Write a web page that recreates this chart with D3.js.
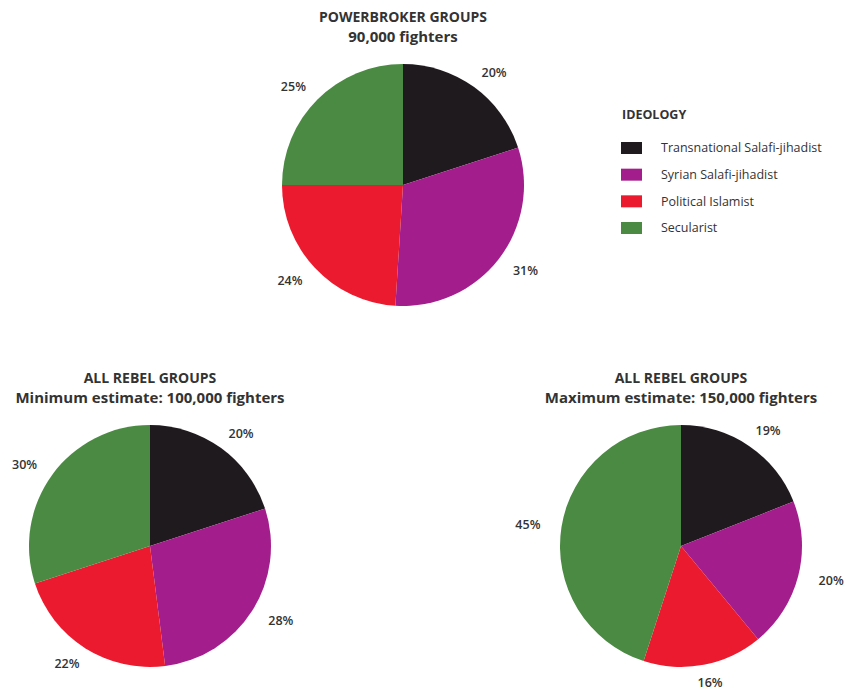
<!DOCTYPE html>
<html><head><meta charset="utf-8">
<script src="https://cdn.jsdelivr.net/npm/d3@7"></script>
<style>
body{margin:0;background:#fff;}
svg{display:block;font-family:"Open Sans","Noto Sans",sans-serif;}
</style></head>
<body><svg id="chart" width="856" height="692"></svg>
<script>
const categories = ["Transnational Salafi-jihadist","Syrian Salafi-jihadist","Political Islamist","Secularist"];
const colors = ["#1f1a1e","#a41d8d","#ec1a2e","#4a8a42"];
const powerbroker = [20,31,24,25];
const rebelMin = [20,28,22,30];
const rebelMax = [19,20,16,45];
const titles = [
  ["POWERBROKER GROUPS","90,000 fighters"],
  ["ALL REBEL GROUPS","Minimum estimate: 100,000 fighters"],
  ["ALL REBEL GROUPS","Maximum estimate: 150,000 fighters"]
];
const legendTitle = "IDEOLOGY";

const svg = d3.select("#chart");
const R = 121;
const color = d3.scaleOrdinal().domain(categories).range(colors);
const pie = d3.pie().sort(null).value(d=>d.v);
const arc = d3.arc().innerRadius(0).outerRadius(R);
// label placement on an ellipse around the pie
const LRX = 155, LRY = 139;
function labelPos(d){
  const a = (d.startAngle + d.endAngle)/2;
  return [Math.sin(a)*LRX, -Math.cos(a)*LRY];
}

const pies = [
  {data:powerbroker, cx:403, cy:185, title:titles[0], ty:22},
  {data:rebelMin, cx:150, cy:546, title:titles[1], ty:383},
  {data:rebelMax, cx:681, cy:546, title:titles[2], ty:383}
];

pies.forEach(p=>{
  const g = svg.append("g").attr("transform",`translate(${p.cx},${p.cy})`);
  const arcs = pie(p.data.map((v,i)=>({v, c:categories[i]})));
  g.selectAll("path").data(arcs).join("path")
    .attr("d",arc).attr("fill",d=>color(d.data.c));
  g.selectAll("text.lbl").data(arcs).join("text").attr("class","lbl")
    .attr("transform",d=>`translate(${labelPos(d)})`)
    .attr("text-anchor","middle").attr("dy","0.35em")
    .attr("font-size",12.5).attr("font-weight",600).attr("fill","#333")
    .text(d=>d.data.v+"%");
  const t = svg.append("text").attr("x",p.cx).attr("y",p.ty)
    .attr("text-anchor","middle").attr("font-weight",700).attr("fill","#333");
  t.append("tspan").attr("x",p.cx).attr("font-size",14).text(p.title[0]);
  t.append("tspan").attr("x",p.cx).attr("dy",20).attr("font-size",15).text(p.title[1]);
});

const lg = svg.append("g").attr("transform","translate(621,0)");
lg.append("text").attr("x",1).attr("y",119).attr("font-size",12.5).attr("font-weight",700).attr("fill","#333").text(legendTitle);
const ly = d3.scalePoint().domain(categories).range([148,228]);
lg.selectAll("rect").data(categories).join("rect")
  .attr("x",0).attr("y",d=>ly(d)-6).attr("width",21).attr("height",12).attr("fill",d=>color(d));
lg.selectAll("text.it").data(categories).join("text").attr("class","it")
  .attr("x",40).attr("y",d=>ly(d)).attr("dy","0.35em")
  .attr("font-size",12.5).attr("fill","#333").text(d=>d);
</script></body></html>
